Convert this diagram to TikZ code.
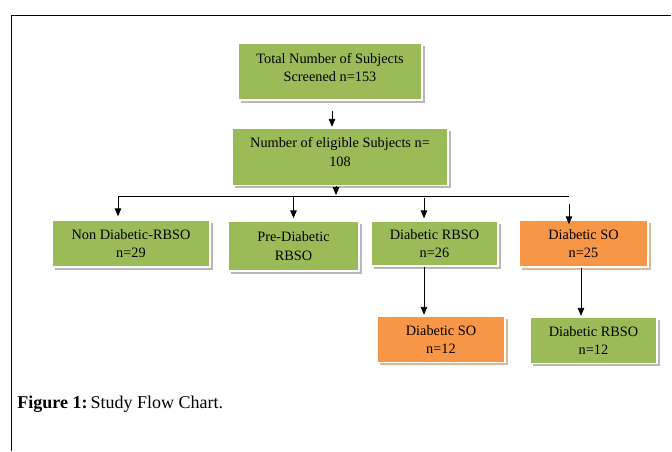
\documentclass[tikz,border=0pt]{standalone}
\usepackage{fontspec}
\setmainfont{Liberation Serif}
\usetikzlibrary{arrows,positioning}

\definecolor{boxgreen}{HTML}{9BBB59}
\definecolor{boxorange}{HTML}{F79646}

\tikzset{
    box/.style={draw=white, line width=1.5pt, align=center, inner sep=2pt,
        font=\fontsize{14.3}{18.5}\selectfont},
    greenbox/.style={box, fill=boxgreen,
        preaction={fill=black!28, transform canvas={shift={(2.5pt,-2.5pt)}}}},
    orangebox/.style={box, fill=boxorange,
        preaction={fill=brown!55, transform canvas={shift={(2.5pt,-2.5pt)}}}}
}

\begin{document}
\begin{tikzpicture}[x=1pt,y=-1pt,>=triangle 45,shorten >=1pt,line width=0.8pt]
            \useasboundingbox (0,0) rectangle (672,451);
            \draw[line width=1pt] (11,451) -- (11,15) -- (672,15);

            \node[greenbox, minimum width=184pt, minimum height=57pt] (total) at (330,71.5)
                {Total Number of Subjects\\Screened n=153\\[-10pt]};
            \node[greenbox, minimum width=216pt, minimum height=57pt] (eligible) [below=27pt of total, xshift=10pt]
                {Number of eligible Subjects n=\\108\\[-8.5pt]};

            \node[greenbox, minimum width=158pt, minimum height=47pt] (nondiab) at (131,243.5)
                {Non Diabetic-RBSO\\n=29};
            \node[greenbox, minimum width=131pt, minimum height=50pt] (prediab) at (293.5,246)
                {Pre-Diabetic\\RBSO};
            \node[greenbox, minimum width=127pt, minimum height=45pt] (diabrbso) at (434.5,243.5)
                {Diabetic RBSO\\n=26};
            \node[orangebox, minimum width=129pt, minimum height=47pt] (diabso) at (583.5,243.5)
                {Diabetic SO\\n=25};

            \node[orangebox, minimum width=128pt, minimum height=46pt] (so12) [below=49pt of diabrbso, xshift=6.5pt]
                {Diabetic SO\\n=12};
            \node[greenbox, minimum width=127pt, minimum height=46pt] (rbso12) [below=49pt of diabso, xshift=10pt]
                {Diabetic RBSO\\n=12};

            \node[anchor=base west, inner sep=0pt, font=\fontsize{18}{22}\selectfont] (caption) at (17,408)
                {\textbf{Figure 1:}\,Study Flow Chart.};

            % split line under the eligible box
            \coordinate (split) at (336,196);
            \coordinate (busL) at (118,196);
            \coordinate (busR) at (570,196);
            \coordinate (tapC) at (424,198);
            \coordinate (tapD) at (569,204);
            \draw (busL) -- (busR);

            \path[->]
                ([xshift=2pt]total.south) edge [shorten <=10pt] ([xshift=-8pt]eligible.north)
                ([xshift=-4pt]eligible.south) edge (split)
                (busL) edge [shorten >=3pt] (busL |- nondiab.north)
                (prediab.north |- busL) edge [shorten >=2pt] (prediab.north)
                (tapC) edge [shorten >=2pt] (tapC |- diabrbso.north)
                (tapD) edge [shorten >=-5pt] (tapD |- diabso.north)
                (tapC |- diabrbso.south) edge (tapC |- so12.north)
                ([xshift=-2.5pt]diabso.south) edge ([xshift=-12.5pt]rbso12.north)
                ;
        \end{tikzpicture}
\end{document}
